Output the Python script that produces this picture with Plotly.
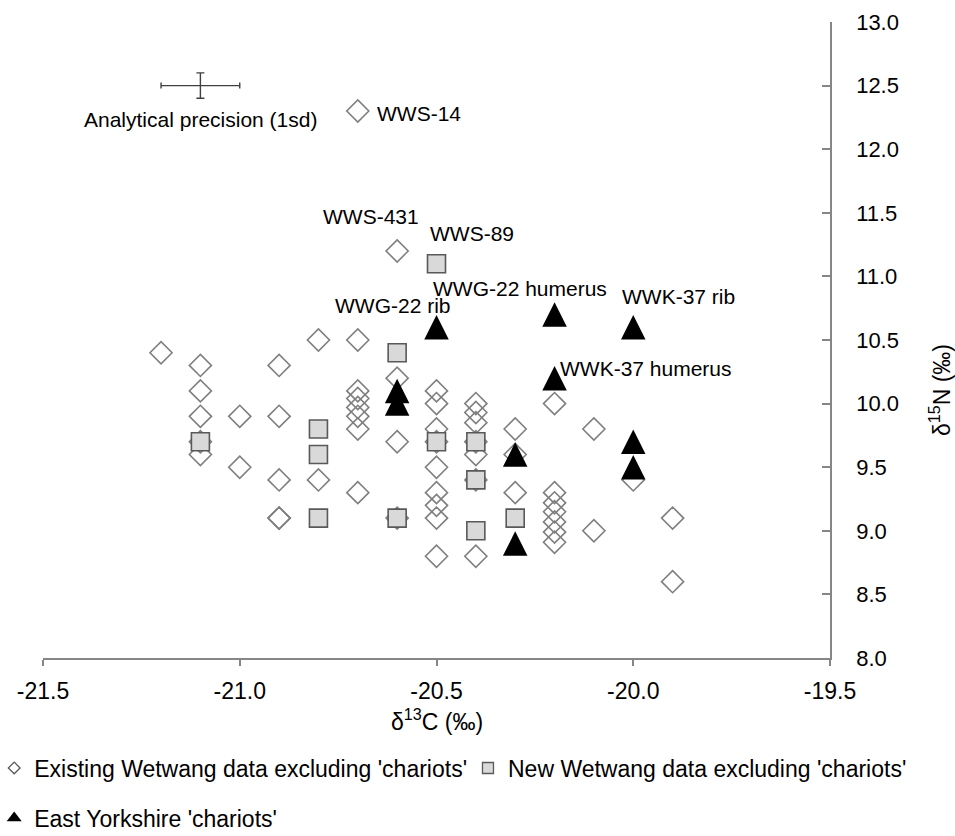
import plotly.graph_objects as go

# ---------------- data ----------------
existing_x = [-21.2,
              -21.1, -21.1, -21.1, -21.1, -21.1,
              -21.0, -21.0,
              -20.9, -20.9, -20.9, -20.9, -20.9,
              -20.8, -20.8,
              -20.7, -20.7, -20.7, -20.7, -20.7, -20.7, -20.7, -20.7,
              -20.6, -20.6, -20.6, -20.6,
              -20.5, -20.5, -20.5, -20.5, -20.5, -20.5, -20.5, -20.5, -20.5,
              -20.4, -20.4, -20.4, -20.4, -20.4, -20.4, -20.4,
              -20.3, -20.3, -20.3,
              -20.2, -20.2, -20.2, -20.2, -20.2, -20.2, -20.2,
              -20.1, -20.1,
              -20.0,
              -19.9, -19.9]
existing_y = [10.4,
              10.3, 10.1, 9.9, 9.7, 9.6,
              9.9, 9.5,
              10.3, 9.9, 9.4, 9.1, 9.1,
              10.5, 9.4,
              12.3, 10.5, 10.1, 10.04, 9.97, 9.9, 9.8, 9.3,
              11.2, 10.2, 9.7, 9.1,
              10.1, 10.0, 9.8, 9.7, 9.5, 9.3, 9.2, 9.1, 8.8,
              10.0, 9.93, 9.85, 9.7, 9.6, 9.4, 8.8,
              9.8, 9.6, 9.3,
              10.0, 9.3, 9.22, 9.15, 9.07, 8.99, 8.91,
              9.8, 9.0,
              9.4,
              9.1, 8.6]

new_x = [-21.1, -20.8, -20.8, -20.8, -20.6, -20.6, -20.5, -20.5, -20.4, -20.4, -20.4, -20.3]
new_y = [9.7, 9.8, 9.6, 9.1, 10.4, 9.1, 11.1, 9.7, 9.7, 9.4, 9.0, 9.1]

chariot_x = [-20.6, -20.6, -20.5, -20.3, -20.3, -20.2, -20.2, -20.0, -20.0, -20.0]
chariot_y = [10.1, 10.0, 10.6, 9.6, 8.9, 10.7, 10.2, 10.6, 9.7, 9.5]

precision_x = [-21.1]
precision_y = [12.5]
precision_sd_x = 0.1
precision_sd_y = 0.1

x_ticks = [-21.5, -21.0, -20.5, -20.0, -19.5]
x_tick_labels = ["-21.5", "-21.0", "-20.5", "-20.0", "-19.5"]
y_ticks = [8.0, 8.5, 9.0, 9.5, 10.0, 10.5, 11.0, 11.5, 12.0, 12.5, 13.0]
y_tick_labels = ["8.0", "8.5", "9.0", "9.5", "10.0", "10.5", "11.0", "11.5", "12.0", "12.5", "13.0"]

legend_names = ["Existing Wetwang data excluding 'chariots'",
                "New Wetwang data excluding 'chariots'",
                "East Yorkshire 'chariots'"]

# point labels: (text, x, y, xshift, yshift, xanchor)
point_labels = [
    ("WWS-14", -20.7, 12.3, 17, -2, "left"),
    ("WWS-431", -20.6, 11.2, -26, 34, "center"),
    ("WWS-89", -20.5, 11.1, 35, 30, "center"),
    ("WWG-22 rib", -20.5, 10.6, -44, 22, "center"),
    ("WWG-22 humerus", -20.2, 10.7, -35, 26, "center"),
    ("WWK-37 rib", -20.0, 10.6, 45, 31, "center"),
    ("WWK-37 humerus", -20.2, 10.2, 91, 10, "center"),
]

FONT = "Arial, 'Liberation Sans', sans-serif"
TRI = 24.5

fig = go.Figure()

fig.add_trace(go.Scatter(
    x=existing_x, y=existing_y, mode="markers", showlegend=False,
    marker=dict(symbol="diamond-open", size=17, color="#7f7f7f", line=dict(width=1.6, color="#7f7f7f")),
    hoverinfo="x+y"))
fig.add_trace(go.Scatter(
    x=new_x, y=new_y, mode="markers", showlegend=False,
    marker=dict(symbol="square", size=18, color="#d9d9d9", line=dict(width=1.6, color="#595959")),
    hoverinfo="x+y"))
fig.add_trace(go.Scatter(
    x=chariot_x, y=chariot_y, mode="markers", showlegend=False,
    marker=dict(symbol="arrow-down", angle=180, standoff=TRI / 2, size=TRI, color="#000000",
                line=dict(width=0)),
    hoverinfo="x+y"))

# analytical precision cross
fig.add_trace(go.Scatter(
    x=precision_x, y=precision_y, mode="markers", showlegend=False,
    marker=dict(size=1, color="rgba(0,0,0,0)"),
    error_x=dict(type="constant", value=precision_sd_x, color="#404040", thickness=1.4, width=3),
    error_y=dict(type="constant", value=precision_sd_y, color="#404040", thickness=1.4, width=4),
    hoverinfo="skip"))

# legend-only traces
fig.add_trace(go.Scatter(x=[None], y=[None], mode="markers", name=legend_names[0], legend="legend",
                         marker=dict(symbol="diamond-open", size=9, color="#595959", line=dict(width=1.3))))
fig.add_trace(go.Scatter(x=[None], y=[None], mode="markers", name=legend_names[1], legend="legend2",
                         marker=dict(symbol="square", size=11, color="#d9d9d9", line=dict(width=1.3, color="#595959"))))
fig.add_trace(go.Scatter(x=[None], y=[None], mode="markers", name=legend_names[2], legend="legend3",
                         marker=dict(symbol="triangle-up", size=13, color="#000000")))

annotations = []
for text, px, py, xs, ys, xa in point_labels:
    annotations.append(dict(x=px, y=py, xref="x", yref="y", text=text, showarrow=False,
                            xanchor=xa, yanchor="middle", xshift=xs, yshift=ys,
                            font=dict(family=FONT, size=21, color="#000000")))
annotations.append(dict(x=precision_x[0], y=precision_y[0], xref="x", yref="y",
                        text="Analytical precision (1sd)", showarrow=False,
                        xanchor="center", yanchor="middle", yshift=-34,
                        font=dict(family=FONT, size=21, color="#000000")))
annotations.append(dict(x=0.5006, y=-0.0975, xref="paper", yref="paper",
                        text="δ<sup>13</sup>C (‰)", showarrow=False, xanchor="center", yanchor="middle",
                        font=dict(family=FONT, size=23, color="#000000")))
annotations.append(dict(x=1.1398, y=0.4214, xref="paper", yref="paper", textangle=-90,
                        text="δ<sup>15</sup>N (‰)", showarrow=False, xanchor="center", yanchor="middle",
                        font=dict(family=FONT, size=23, color="#000000")))

legend_style = dict(orientation="h", bgcolor="rgba(0,0,0,0)", borderwidth=0,
                    font=dict(family=FONT, size=23, color="#000000"),
                    xanchor="left", yanchor="middle", itemwidth=30)

fig.update_layout(
    width=955, height=836,
    margin=dict(l=43, r=125, t=22, b=178, autoexpand=False),
    paper_bgcolor="white", plot_bgcolor="white",
    font=dict(family=FONT, color="#000000"),
    annotations=annotations,
    legend=dict(x=-0.0620, y=-0.173, **legend_style),
    legend2=dict(x=0.5400, y=-0.173, **legend_style),
    legend3=dict(x=-0.0620, y=-0.2516, **legend_style),
    xaxis=dict(range=[-21.5, -19.5], tickvals=x_ticks, ticktext=x_tick_labels, automargin=False,
               showgrid=False, zeroline=False, showline=True, linecolor="#868686", linewidth=1.5,
               ticks="outside", ticklen=6, tickwidth=1.5, tickcolor="#868686",
               tickfont=dict(family=FONT, size=23, color="#000000"), ticklabelstandoff=6),
    yaxis=dict(range=[8, 13], tickvals=y_ticks, ticktext=y_tick_labels, side="right", automargin=False,
               showgrid=False, zeroline=False, showline=True, linecolor="#868686", linewidth=1.5,
               ticks="inside", ticklen=8, tickwidth=1.5, tickcolor="#868686",
               tickfont=dict(family=FONT, size=22, color="#000000"), ticklabelstandoff=20),
)

fig.write_html("out.html", config={"displayModeBar": False},
               post_script="document.body.style.margin='0px';")
